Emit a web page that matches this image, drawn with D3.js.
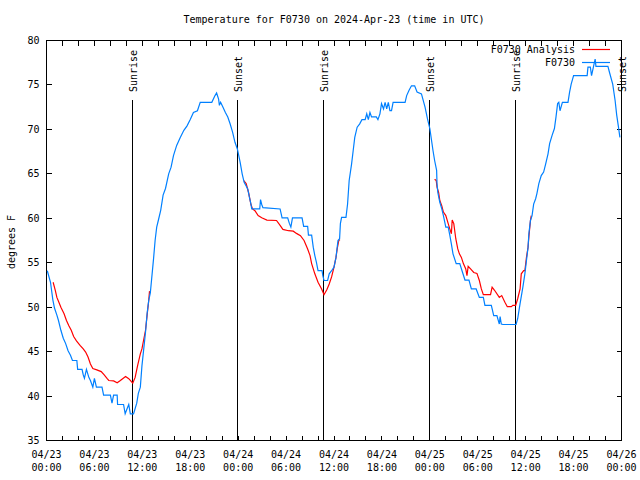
<!DOCTYPE html>
<html>
<head>
<meta charset="utf-8">
<script src="https://cdn.jsdelivr.net/npm/d3@7"></script>
<style>
  html, body { margin: 0; padding: 0; background: #fff; }
  svg { display: block; }
  text { font-family: "DejaVu Sans Mono", "Liberation Mono", monospace; font-size: 10px; fill: #000; }
</style>
</head>
<body>
<svg id="chart" width="640" height="480"></svg>
<script>
// ---- data (hours since 2024-04-23 00:00 UTC, degrees F) ----
const obsHours = [0.1,0.5,0.8,1.0,1.3,1.5,1.8,2.1,2.4,2.7,3.0,3.25,3.8,3.9,4.45,4.6,4.75,5.0,5.3,5.5,5.8,6.0,6.25,6.95,7.15,8.0,8.2,8.4,8.85,8.9,9.65,9.85,10.1,10.3,10.5,10.9,11.3,11.5,11.75,11.95,12.2,12.4,12.6,12.8,13.0,
  13.4,13.6,13.8,14.0,14.3,14.6,14.9,15.3,15.6,15.9,16.3,16.75,17.2,17.6,18.0,18.4,18.9,19.25,20.7,21.1,21.3,21.55,21.65,21.8,22.1,22.4,22.7,23.0,23.3,23.6,23.9,24.25,24.5,24.75,25.2,25.4,25.6,25.7,26.7,26.8,26.95,27.1,29.25,29.5,30.2,30.4,30.6,30.8,32.0,32.2,32.7,32.8,33.2,33.4,33.6,33.8,34.0,34.5,34.6,34.75,35.2,35.4,35.7,36.0,36.25,36.5,36.7,36.8,36.95,37.5,37.7,37.9,38.2,38.4,38.6,38.9,39.2,39.5,39.9,40.1,40.3,40.5,40.7,41.3,41.5,41.75,41.95,42.2,42.4,42.6,42.8,43.0,43.2,43.4,44.9,45.1,45.4,45.7,46.1,46.4,46.95,47.4,47.7,48.0,48.4,48.6,48.85,48.9,49.0,49.25,49.5,49.7,50.0,50.3,50.5,50.7,50.9,51.3,51.75,52.1,52.4,52.9,53.2,53.8,54.2,54.7,54.9,55.7,56.0,56.4,56.7,56.8,56.95,57.15,58.8,59.0,59.3,59.65,59.9,60.1,60.3,60.4,60.6,60.8,61.0,61.25,61.4,61.65,61.95,62.25,62.5,62.8,63.0,63.3,63.6,63.8,64.0,64.15,64.3,64.6,65.3,65.5,65.7,66.0,67.7,67.8,68.1,68.25,68.5,68.7,68.8,70.3,70.5,70.9,71.2,71.4,71.6,71.8];
const obsTemps = [54.1,52.8,50.8,49.9,49.1,48.5,47.4,46.5,45.9,45.1,44.6,44.0,44.0,43.0,43.0,42.4,42.0,43.0,42.1,41.75,41.0,42.0,41.0,41.0,40.1,40.1,39.2,40.1,40.1,39.05,39.05,38.0,38.6,39.05,38.0,38.0,39.2,40.3,41.0,43.4,45.5,47.2,49.3,50.75,51.6,
  55.4,57.5,59.0,59.75,60.9,62.6,63.35,65.0,65.75,67.05,68.2,69.1,69.9,70.4,71.1,71.9,72.1,73.05,73.05,73.8,74.1,73.4,72.7,73.05,72.5,71.9,71.4,70.6,69.7,68.55,67.8,66.3,65.0,64.05,63.3,62.4,61.6,61.05,61.05,62.1,61.55,61.2,61.05,60.05,60.05,59.45,59.0,60.05,60.05,59.1,59.1,58.1,58.1,56.75,55.8,55.05,54.1,54.1,53.55,53.0,53.0,53.75,54.1,54.5,55.6,57.5,57.7,59.4,60.1,60.1,61.6,64.25,66.1,67.6,69.1,70.25,70.6,71.1,71.1,71.75,71.1,71.9,71.4,71.4,71.1,71.75,72.9,72.3,73.05,72.3,73.05,72.1,72.1,73.05,73.05,73.8,74.4,74.9,74.9,74.2,74.0,72.5,71.2,70.1,67.6,66.5,65.4,63.9,62.9,61.8,61.05,60.3,59.0,59.0,58.1,57.1,56.0,54.9,54.9,53.9,53.05,53.05,52.05,52.05,51.1,51.1,50.2,50.2,49.05,49.05,48.1,48.95,48.1,48.05,48.05,48.7,50.4,52.25,53.75,55.25,56.75,58.25,59.75,60.3,61.6,62.2,62.75,63.9,64.8,65.2,66.1,67.25,68.4,69.3,70.1,71.4,72.9,73.05,72.1,73.05,73.05,74.2,75.1,76.05,76.05,77.0,77.0,76.05,77.1,77.9,77.1,77.1,76.4,75.1,73.25,71.6,70.4,69.1];

// analysis: null entries separate the nightly segments
const anaHours = [0.83,1.1,1.3,1.55,1.8,2.2,2.5,2.8,3.1,3.4,3.75,4.2,4.6,4.9,5.2,5.5,5.8,6.3,6.85,7.2,7.6,7.8,8.4,8.85,9.25,9.9,10.3,10.8,11.1,11.4,11.75,11.95,12.15,12.4,12.6,12.8,12.9,
  18.0,
  24.7,25.0,25.3,25.6,25.8,26.1,26.5,26.95,27.6,28.8,29.25,29.6,30.3,30.9,31.3,31.8,32.25,32.7,33.0,33.2,33.6,34.0,34.45,34.75,35.1,35.4,35.7,36.0,36.25,36.4,36.6,36.75,
  42.0,
  48.6,48.8,48.9,49.1,49.25,49.5,49.7,50.0,50.3,50.5,50.7,50.8,51.0,51.25,51.5,51.7,51.95,52.2,52.5,52.65,52.8,53.1,53.5,53.9,54.2,54.45,54.7,55.6,55.8,56.1,56.7,57.0,57.4,57.7,58.2,58.4,58.75,59.0,59.3,59.45,59.75,59.9,60.1,60.3,60.4,60.6,60.7];
const anaTemps = [52.8,51.9,51.1,50.55,50.0,49.25,48.5,47.9,47.4,46.7,46.2,45.7,45.3,44.95,44.4,43.6,43.1,42.95,42.75,42.4,41.95,41.75,41.7,41.5,41.75,42.2,41.95,41.45,42.1,43.4,44.75,45.3,46.25,47.4,49.1,50.75,51.8,
  null,
  64.25,63.9,62.9,61.55,61.05,60.85,60.3,60.05,59.8,59.75,59.2,58.75,58.6,58.55,58.3,58.05,57.5,56.55,55.8,54.9,53.75,52.8,52.05,51.4,51.95,52.6,53.4,54.5,55.6,56.55,57.5,57.6,
  null,
  64.4,64.25,63.5,62.9,62.0,61.4,60.7,60.3,59.4,58.8,58.25,59.8,59.4,57.7,56.55,56.0,55.6,54.9,54.3,53.55,54.6,54.3,53.9,53.8,53.0,52.05,51.4,51.4,52.25,51.9,51.1,51.3,50.55,50.05,50.05,50.2,50.2,50.95,52.05,53.75,54.1,54.1,55.6,56.75,57.9,59.75,60.3];

const sunHours  = [10.77, 23.92, 34.69, 47.96, 58.73, 71.95];
const sunLabels = ["Sunrise", "Sunset", "Sunrise", "Sunset", "Sunrise", "Sunset"];

const xTickHours  = d3.range(0, 73, 2);
const xLabelHours = [0, 6, 12, 18, 24, 30, 36, 42, 48, 54, 60, 66, 72];
const xLabelDates = ["04/23","04/23","04/23","04/23","04/24","04/24","04/24","04/24","04/25","04/25","04/25","04/25","04/26"];
const xLabelTimes = ["00:00","06:00","12:00","18:00","00:00","06:00","12:00","18:00","00:00","06:00","12:00","18:00","00:00"];
const yTicks = [35, 40, 45, 50, 55, 60, 65, 70, 75, 80];

const titleText = "Temperature for F0730 on 2024-Apr-23 (time in UTC)";
const yLabel = "degrees F";
const seriesNames = ["F0730 Analysis", "F0730"];
const seriesColors = ["#ff0000", "#0080ff"];

// ---- drawing ----
const svg = d3.select("#chart");
const L = 46.5, R = 621.5, T = 40.5, B = 440.5;
const x = d3.scaleLinear().domain([0, 72]).range([L, R]);
const y = d3.scaleLinear().domain([35, 80]).range([B, T]);
const snap = v => Math.floor(v) + 0.5;

// title
svg.append("text").attr("x", (L + R) / 2).attr("y", 23).attr("text-anchor", "middle").text(titleText);

// y label
svg.append("text").attr("transform", "translate(15,242) rotate(-90)").attr("text-anchor", "middle").text(yLabel);

const g = svg.append("g").attr("shape-rendering", "crispEdges");

// ticks (inward, mirrored)
const tk = 5;
g.selectAll(".xtb").data(xTickHours).join("line")
  .attr("x1", d => snap(x(d))).attr("x2", d => snap(x(d)))
  .attr("y1", B).attr("y2", B - tk).attr("stroke", "#000");
g.selectAll(".xtt").data(xTickHours).join("line")
  .attr("x1", d => snap(x(d))).attr("x2", d => snap(x(d)))
  .attr("y1", T).attr("y2", T + tk).attr("stroke", "#000");
g.selectAll(".ytl").data(yTicks).join("line")
  .attr("x1", L).attr("x2", L + tk)
  .attr("y1", d => snap(y(d))).attr("y2", d => snap(y(d))).attr("stroke", "#000");
g.selectAll(".ytr").data(yTicks).join("line")
  .attr("x1", R).attr("x2", R - tk)
  .attr("y1", d => snap(y(d))).attr("y2", d => snap(y(d))).attr("stroke", "#000");

// tick labels
svg.selectAll(".yl").data(yTicks).join("text")
  .attr("x", 39.5).attr("y", d => y(d) + 3.5).attr("text-anchor", "end").text(d => d);
xLabelHours.forEach((h, i) => {
  svg.append("text").attr("x", x(h)).attr("y", 457.5).attr("text-anchor", "middle").text(xLabelDates[i]);
  svg.append("text").attr("x", x(h)).attr("y", 471).attr("text-anchor", "middle").text(xLabelTimes[i]);
});

// sunrise / sunset markers
sunHours.forEach((h, i) => {
  const px = snap(x(h));
  g.append("line").attr("x1", px).attr("x2", px).attr("y1", 100).attr("y2", B).attr("stroke", "#000");
  svg.append("text").attr("transform", `translate(${px + 4},92) rotate(-90)`)
    .attr("text-anchor", "start").text(sunLabels[i]);
});

// series
const anaData = anaHours.map((h, i) => ({ h, v: anaTemps[i] }));
const obsData = obsHours.map((h, i) => ({ h, v: obsTemps[i] }));
const line = d3.line().defined(d => d.v !== null).x(d => x(d.h)).y(d => y(d.v));

svg.append("path").datum(anaData).attr("d", line)
  .attr("fill", "none").attr("stroke", seriesColors[0]).attr("stroke-width", 1.2);
svg.append("path").datum(obsData).attr("d", line)
  .attr("fill", "none").attr("stroke", seriesColors[1]).attr("stroke-width", 1.2);

// frame
g.append("rect").attr("x", L).attr("y", T).attr("width", R - L).attr("height", B - T)
  .attr("fill", "none").attr("stroke", "#000");

// legend
const legY = [49.5, 62.5];
seriesNames.forEach((n, i) => {
  svg.append("text").attr("x", 575).attr("y", legY[i] + 3.5).attr("text-anchor", "end").text(n);
  svg.append("line").attr("x1", 582).attr("x2", 610).attr("y1", legY[i]).attr("y2", legY[i])
    .attr("stroke", seriesColors[i]).attr("stroke-width", 1.2);
});
</script>
</body>
</html>
